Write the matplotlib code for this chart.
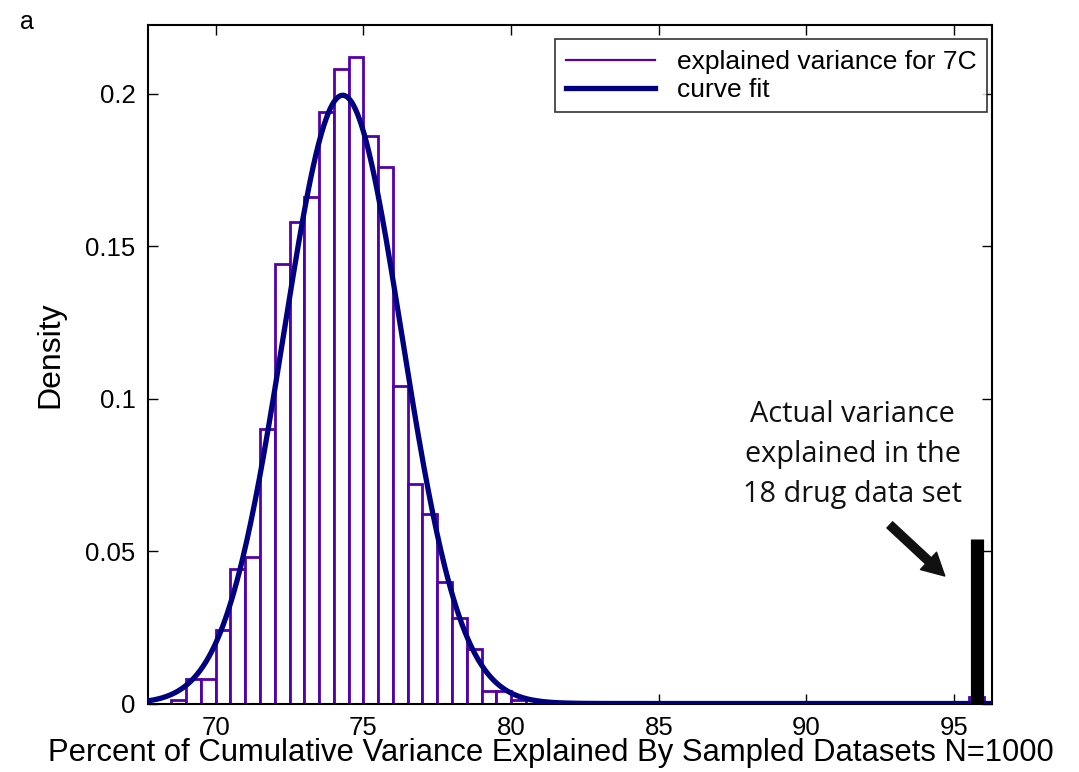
import numpy as np
import matplotlib.pyplot as plt

plt.rcParams['font.family'] = ['Liberation Sans', 'DejaVu Sans']

# histogram of sampled explained variance (bin edges every 0.5)
bin_left = [68.0, 68.5, 69.0, 69.5, 70.0, 70.5, 71.0, 71.5, 72.0, 72.5, 73.0, 73.5,
            74.0, 74.5, 75.0, 75.5, 76.0, 76.5, 77.0, 77.5, 78.0, 78.5, 79.0, 79.5,
            80.0, 95.5]
density = [0.0, 0.001, 0.008, 0.008, 0.024, 0.044, 0.048, 0.090, 0.144, 0.158, 0.166, 0.194,
           0.208, 0.212, 0.186, 0.176, 0.104, 0.072, 0.062, 0.040, 0.028, 0.018, 0.004, 0.004,
           0.001, 0.002]
bin_width = 0.5

# normal fit parameters
fit_mu = 74.3
fit_sigma = 2.0

# actual variance of the 18 drug data set
actual_x = 95.76
actual_h = 0.054

xlim = (67.71, 96.27)
ylim = (0, 0.2225)
xticks = [70, 75, 80, 85, 90, 95]
yticks = [0, 0.05, 0.1, 0.15, 0.2]
yticklabels = ['0', '0.05', '0.1', '0.15', '0.2']

fig = plt.figure(figsize=(10.79, 7.72), dpi=100)
ax = fig.add_axes([0.1372, 0.0887, 0.7819, 0.8789])

purple = '#5500AA'
navy = '#000080'

ax.bar(bin_left, density, width=bin_width, align='edge', facecolor='white',
       edgecolor=purple, linewidth=2.0, zorder=2)
ax.plot([], [], color=purple, linewidth=1.6, label='explained variance for 7C')

xs = np.linspace(xlim[0], xlim[1], 600)
ys = np.exp(-(xs - fit_mu) ** 2 / (2 * fit_sigma ** 2)) / (fit_sigma * np.sqrt(2 * np.pi))
ax.plot(xs, ys, color=navy, linewidth=3.8, label='curve fit', zorder=3)

ax.plot([actual_x, actual_x], [-0.0005, actual_h], color='black', linewidth=9.5,
        solid_capstyle='butt', zorder=4)

ax.annotate('', xy=(94.75, 0.0412), xytext=(92.75, 0.0592),
            arrowprops=dict(arrowstyle='simple,head_width=1.7,head_length=1.6,tail_width=0.6',
                            facecolor='#111111', edgecolor='#111111'))
ax.text(91.56, 0.0815, 'Actual variance\nexplained in the\n18 drug data set',
        ha='center', va='center', fontsize=20.8, family=['Open Sans', 'DejaVu Sans'],
        linespacing=1.5, color='#111111')

ax.set_xlim(xlim)
ax.set_ylim(ylim)
ax.set_xticks(xticks)
ax.set_yticks(yticks)
ax.set_yticklabels(yticklabels)
ax.tick_params(direction='in', length=7, width=1, labelsize=18.5, top=True, right=True)
ax.tick_params(axis='x', pad=9)
ax.tick_params(axis='y', pad=9)
for s in ax.spines.values():
    s.set_linewidth(1.5)

ax.set_xlabel('Percent of Cumulative Variance Explained By Sampled Datasets N=1000',
              fontsize=22.3, labelpad=-1.5)
ax.xaxis.label.set_x(0.477)
ax.set_ylabel('Density', fontsize=23, labelpad=14)
ax.yaxis.label.set_y(0.514)

leg = ax.legend(loc='upper right', fontsize=19, frameon=True, fancybox=False,
                handlelength=3.4, borderpad=0.4, labelspacing=0.15, borderaxespad=0,
                bbox_to_anchor=(0.9941, 0.979))
leg.get_frame().set_edgecolor('black')
leg.get_frame().set_linewidth(1.2)

fig.text(0.0185, 0.972, 'a', fontsize=18, va='center')

fig.savefig('out.png', dpi=100)
